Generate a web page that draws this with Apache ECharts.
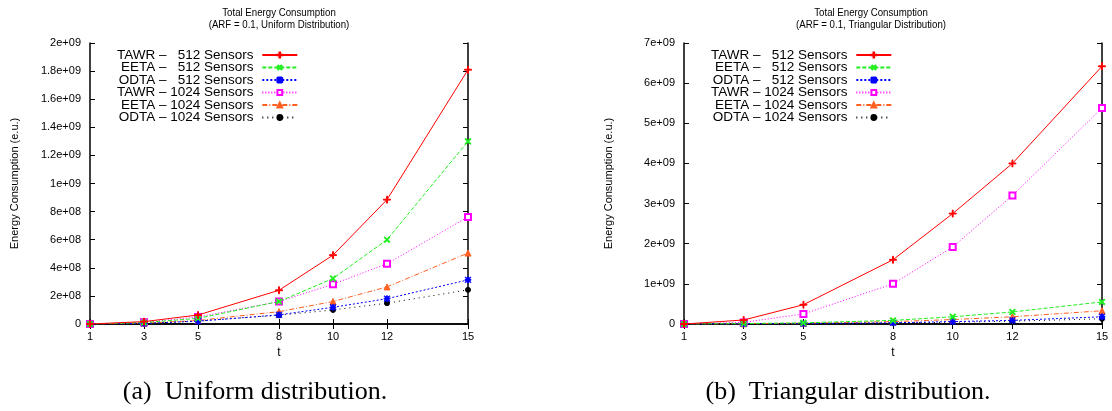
<!DOCTYPE html>
<html>
<head>
<meta charset="utf-8">
<script src="https://cdn.jsdelivr.net/npm/echarts@6/dist/echarts.min.js"></script>
<style>
  html, body { margin: 0; padding: 0; background: #fff; }
  #chart { width: 1112px; height: 411px; }
</style>
</head>
<body>
<div id="chart"></div>
<script>
// x values (t) shared by both plots
const tValues = [1, 3, 5, 8, 10, 12, 15];
const seriesNames = [
  'TAWR \u2013   512 Sensors',
  'EETA \u2013   512 Sensors',
  'ODTA \u2013   512 Sensors',
  'TAWR \u2013 1024 Sensors',
  'EETA \u2013 1024 Sensors',
  'ODTA \u2013 1024 Sensors'
];

// (a) uniform distribution
const uniTawr512 = [0, 1.7e7, 6.4e7, 2.4e8, 4.9e8, 8.85e8, 1.81e9];
const uniEeta512 = [0, 1.0e7, 4.0e7, 1.6e8, 3.24e8, 6.0e8, 1.3e9];
const uniOdta512 = [0, 4e6, 2.0e7, 6.5e7, 1.19e8, 1.8e8, 3.14e8];
const uniTawr1024 = [0, 1.2e7, 5.0e7, 1.6e8, 2.83e8, 4.29e8, 7.62e8];
const uniEeta1024 = [0, 6e6, 2.5e7, 8.8e7, 1.6e8, 2.64e8, 5.05e8];
const uniOdta1024 = [0, 3e6, 2.2e7, 6.2e7, 1.0e8, 1.48e8, 2.43e8];

// (b) triangular distribution
const triTawr512 = [0, 1.0e8, 4.8e8, 1.6e9, 2.75e9, 4.0e9, 6.42e9];
const triEeta512 = [0, 1.0e7, 3.0e7, 9.0e7, 1.8e8, 3.0e8, 5.5e8];
const triOdta512 = [0, 3e6, 1.0e7, 3.0e7, 6.0e7, 9.0e7, 1.8e8];
const triTawr1024 = [0, 4e7, 2.5e8, 1.0e9, 1.92e9, 3.2e9, 5.38e9];
const triEeta1024 = [0, 5e6, 2.0e7, 6.0e7, 1.1e8, 1.8e8, 3.3e8];
const triOdta1024 = [0, 2e6, 8e6, 2.5e7, 4.5e7, 7.0e7, 1.3e8];

const uniTicks = [0, 2e8, 4e8, 6e8, 8e8, 1e9, 1.2e9, 1.4e9, 1.6e9, 1.8e9, 2e9];
const triTicks = [0, 1e9, 2e9, 3e9, 4e9, 5e9, 6e9, 7e9];

const FONT = 'Liberation Sans';

// marker shapes
const PLUS = 'path://M-0.5,-4H0.5V-0.5H4V0.5H0.5V4H-0.5V0.5H-4V-0.5H-0.5Z';
const STAR = 'path://M-0.5,-4H0.5V-0.5H4V0.5H0.5V4H-0.5V0.5H-4V-0.5H-0.5Z' +
  'M-3.2,-3.9L3.9,3.2L3.2,3.9L-3.9,-3.2Z M3.2,-3.9L3.9,-3.2L-3.2,3.9L-3.9,3.2Z';

const styles = [
  { color: '#ff0000', dash: 'solid', symbol: PLUS, size: 7, rotate: 0 },
  { color: '#22ee22', dash: [4, 2], symbol: PLUS, size: 7, rotate: 45 },
  { color: '#0000ff', dash: [2, 2], symbol: STAR, size: 6, rotate: 0 },
  { color: '#ff00ff', dash: [1, 2], symbol: 'emptyRect', size: 6, rotate: 0 },
  { color: '#ff5f1f', dash: [5, 2, 1, 2], symbol: 'triangle', size: 6, rotate: 0 },
  { color: '#000000', dash: [1, 4], symbol: 'circle', size: 5, rotate: 0 }
];

function fmtExp(v) {
  if (v === 0) return '0';
  const parts = v.toExponential().split('e');
  let e = parts[1].replace('+', '');
  if (e.length < 2) e = '0' + e;
  return parts[0] + 'e+' + e;
}

function makeSeries(list, idx) {
  return list.map((vals, i) => ({
    name: seriesNames[i],
    type: 'line',
    xAxisIndex: idx * 2,
    yAxisIndex: idx * 2,
    data: tValues.map((t, j) => [t, vals[j]]),
    symbol: styles[i].symbol,
    symbolSize: styles[i].size,
    symbolRotate: styles[i].rotate,
    showAllSymbol: true,
    animation: false,
    itemStyle: { color: styles[i].color, borderColor: styles[i].color, borderWidth: 1 },
    lineStyle: { color: styles[i].color, width: 1, type: styles[i].dash },
    z: 10 - i
  }));
}

const grids = [
  { left: 90, right: 644, top: 43, bottom: 87 },
  { left: 684, right: 10, top: 43, bottom: 87 }
];

function axesFor(idx, max, interval) {
  const tickStyle = { lineStyle: { color: '#000', width: 1 } };
  const xs = [
    {
      type: 'value', gridIndex: idx, min: 1, max: 15, position: 'bottom',
      name: 't', nameLocation: 'middle', nameGap: 22,
      nameTextStyle: { fontFamily: FONT, fontSize: 12, color: '#000' },
      axisLine: { show: true, lineStyle: { color: '#000', width: 1.5 } },
      axisTick: Object.assign({ inside: true, length: 5, customValues: tValues }, tickStyle),
      axisLabel: { customValues: tValues, fontFamily: FONT, fontSize: 11, color: '#000', margin: 7 },
      splitLine: { show: false }
    },
    {
      type: 'value', gridIndex: idx, min: 1, max: 15, position: 'top',
      axisLine: { show: true, lineStyle: { color: '#000', width: 1.5 } },
      axisTick: Object.assign({ inside: true, length: 5, customValues: tValues }, tickStyle),
      axisLabel: { show: false },
      splitLine: { show: false }
    }
  ];
  const ys = [
    {
      type: 'value', gridIndex: idx, min: 0, max: max, interval: interval, position: 'left',
      name: 'Energy Consumption (e.u.)', nameLocation: 'middle', nameGap: 70,
      nameTextStyle: { fontFamily: FONT, fontSize: 11, color: '#000' },
      axisLine: { show: true, lineStyle: { color: '#000', width: 1.5 } },
      axisTick: Object.assign({ inside: true, length: 5 }, tickStyle),
      axisLabel: { formatter: fmtExp, fontFamily: FONT, fontSize: 11, color: '#000', margin: 9 },
      splitLine: { show: false }
    },
    {
      type: 'value', gridIndex: idx, min: 0, max: max, interval: interval, position: 'right',
      axisLine: { show: true, lineStyle: { color: '#000', width: 1.5 } },
      axisTick: Object.assign({ inside: true, length: 5 }, tickStyle),
      axisLabel: { show: false },
      splitLine: { show: false }
    }
  ];
  return { xs, ys };
}

const a0 = axesFor(0, uniTicks[uniTicks.length - 1], uniTicks[1]);
const a1 = axesFor(1, triTicks[triTicks.length - 1], triTicks[1]);

function legendAt(left) {
  return {
    orient: 'vertical',
    left: left, top: 48,
    align: 'right',
    itemWidth: 35, itemHeight: 6, itemGap: -1.5,
    padding: 0,
    data: seriesNames,
    formatter: name => name + ' ',
    textStyle: { fontFamily: FONT, fontSize: 13.5, lineHeight: 12, color: '#000' },
    selectedMode: false
  };
}

function label(x, y, text, font, sx) {
  return {
    type: 'text', x: x, y: y, scaleX: sx || 1,
    style: { text: text, font: font, fill: '#000', align: 'center' }
  };
}

const option = {
  backgroundColor: '#fff',
  animation: false,
  grid: grids,
  xAxis: [a0.xs[0], a0.xs[1], a1.xs[0], a1.xs[1]],
  yAxis: [a0.ys[0], a0.ys[1], a1.ys[0], a1.ys[1]],
  legend: [legendAt(117), legendAt(711)],
  series: makeSeries([uniTawr512, uniEeta512, uniOdta512, uniTawr1024, uniEeta1024, uniOdta1024], 0)
    .concat(makeSeries([triTawr512, triEeta512, triOdta512, triTawr1024, triEeta1024, triOdta1024], 1)),
  graphic: [
    label(279, 7, 'Total Energy Consumption', '11px "Liberation Sans"', 0.88),
    label(279, 19, '(ARF = 0.1, Uniform Distribution)', '11px "Liberation Sans"', 0.88),
    label(871, 7, 'Total Energy Consumption', '11px "Liberation Sans"', 0.88),
    label(871, 19, '(ARF = 0.1, Triangular Distribution)', '11px "Liberation Sans"', 0.88),
    label(255, 379, '(a)  Uniform distribution.', '26px "Liberation Serif"'),
    label(848, 379, '(b)  Triangular distribution.', '26px "Liberation Serif"')
  ]
};

const myChart = echarts.init(document.getElementById('chart'));
myChart.setOption(option);
</script>
</body>
</html>
